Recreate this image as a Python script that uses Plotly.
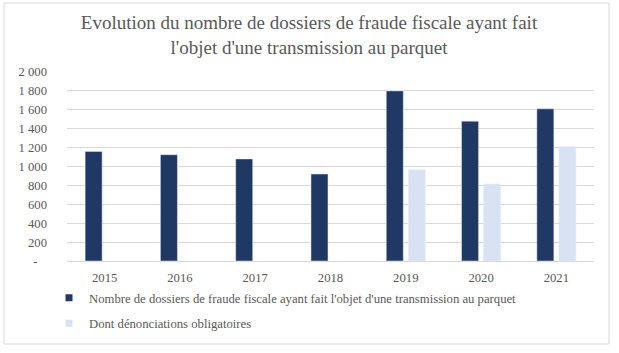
import plotly.graph_objects as go

years = ["2015", "2016", "2017", "2018", "2019", "2020", "2021"]
transmissions = [1160, 1125, 1080, 920, 1800, 1480, 1610]
denonciations = [None, None, None, None, 965, 815, 1210]
series_names = [
    "Nombre de dossiers de fraude fiscale ayant fait l'objet d'une transmission au parquet",
    "Dont dénonciations obligatoires",
]
series_colors = ["#1f3864", "#d9e2f3"]
y_tickvals = [0, 200, 400, 600, 800, 1000, 1200, 1400, 1600, 1800, 2000]
y_ticktext = ["-\u00a0\u00a0\u00a0", "200", "400", "600", "800", "1 000", "1 200",
              "1 400", "1 600", "1 800", "2 000"]

W, H = 619, 353
L, R, T, B = 67, 25, 72, 92
pw, ph = W - L - R, H - T - B

def px_x(x):
    return (x - L) / pw

def px_y(y):
    return (H - B - y) / ph

FONT = "Liberation Serif, Times New Roman, serif"
GRAY = "#595959"

fig = go.Figure()
fig.add_trace(go.Bar(x=years, y=transmissions, name=series_names[0],
                     marker_color=series_colors[0], showlegend=False))
fig.add_trace(go.Bar(x=years, y=denonciations, name=series_names[1],
                     marker_color=series_colors[1], showlegend=False))
# legend entries with small square swatches
for i, (nm, col) in enumerate(zip(series_names, series_colors)):
    fig.add_trace(go.Scatter(x=[None], y=[None], mode="markers", name=nm,
                             marker=dict(symbol="square", size=7, color=col),
                             legendgroup=f"g{i}", showlegend=True))

fig.update_layout(
    width=W, height=H,
    margin=dict(l=L, r=R, t=T, b=B),
    paper_bgcolor="white", plot_bgcolor="white",
    barmode="group", bargap=0.415, bargroupgap=0.227,
    font=dict(family=FONT, size=12.7, color=GRAY),
    title=dict(
        text="Evolution du nombre de dossiers de fraude fiscale ayant fait<br>l'objet d'une transmission au parquet",
        x=px_x(309), xref="paper", xanchor="center",
        y=1 - 29 / H, yref="container", yanchor="top",
        font=dict(family=FONT, size=19, color=GRAY),
    ),
    xaxis=dict(showgrid=False, showline=True, linecolor="#d9d9d9", linewidth=1,
               ticks="", ticklabelstandoff=5, tickfont=dict(size=12.7, color=GRAY)),
    yaxis=dict(range=[0, 2000], tickvals=y_tickvals, ticktext=y_ticktext,
               showgrid=True, gridcolor="#d9d9d9", gridwidth=1,
               zeroline=False, showline=False, ticklabelstandoff=19,
               tickfont=dict(size=12.7, color=GRAY)),
    legend=dict(x=px_x(49), xanchor="left", y=px_y(283), yanchor="top",
                orientation="v", traceorder="grouped", tracegroupgap=6,
                font=dict(family=FONT, size=12.7, color=GRAY),
                bgcolor="rgba(0,0,0,0)"),
    showlegend=True,
    shapes=[dict(type="rect", xref="paper", yref="paper",
                 x0=px_x(4), x1=px_x(609), y0=px_y(344), y1=px_y(3),
                 line=dict(color="#d9d9d9", width=1), fillcolor="rgba(0,0,0,0)",
                 layer="below")],
)

fig.write_html("out.html")
